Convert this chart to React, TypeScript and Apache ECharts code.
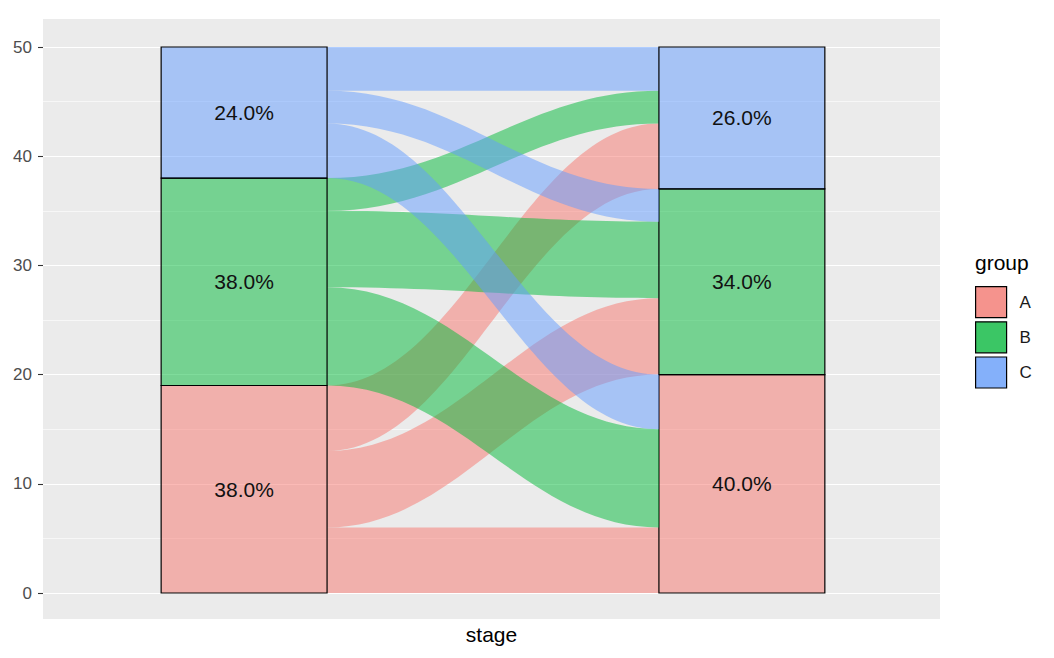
import React, { useEffect, useRef } from "react";
import * as echarts from "echarts";

// ---- data ----
const groups = ["A", "B", "C"];
const stage1Counts = [19, 19, 12]; // left stratum sizes (A, B, C)
const stage2Counts = [20, 17, 13]; // right stratum sizes (A, B, C)
// flows[from][to]
const flowsFromA = [6, 7, 6];
const flowsFromB = [9, 7, 3];
const flowsFromC = [5, 3, 4];
const yTicks = [0, 10, 20, 30, 40, 50];

const flows = [flowsFromA, flowsFromB, flowsFromC];
const baseColors = ["#F8766D", "#00BA38", "#619CFF"];
const legendColors = ["#F5938D", "#3BC665", "#84B0FA"];
const FONT = "'Liberation Sans', Arial, Helvetica, sans-serif";
const W = 1 / 3;

function rgba(hex: string, a: number) {
  const n = parseInt(hex.slice(1), 16);
  return `rgba(${(n >> 16) & 255},${(n >> 8) & 255},${n & 255},${a})`;
}

function cumBefore(arr: number[], i: number) {
  let s = 0;
  for (let k = 0; k < i; k++) s += arr[k];
  return s;
}

type Item =
  | { kind: "flow"; lb: number; lt: number; rb: number; rt: number }
  | { kind: "stratum"; x: number; b: number; t: number; label: string };

function buildItems(g: number): Item[] {
  const items: Item[] = [];
  const total1 = stage1Counts.reduce((a, b) => a + b, 0);
  const total2 = stage2Counts.reduce((a, b) => a + b, 0);
  for (let j = 0; j < groups.length; j++) {
    const v = flows[g][j];
    const lb = cumBefore(stage1Counts, g) + cumBefore(flows[g], j);
    let rOff = 0;
    for (let k = 0; k < g; k++) rOff += flows[k][j];
    const rb = cumBefore(stage2Counts, j) + rOff;
    items.push({ kind: "flow", lb, lt: lb + v, rb, rt: rb + v });
  }
  const b1 = cumBefore(stage1Counts, g);
  items.push({
    kind: "stratum",
    x: 1,
    b: b1,
    t: b1 + stage1Counts[g],
    label: ((stage1Counts[g] / total1) * 100).toFixed(1) + "%",
  });
  const b2 = cumBefore(stage2Counts, g);
  items.push({
    kind: "stratum",
    x: 2,
    b: b2,
    t: b2 + stage2Counts[g],
    label: ((stage2Counts[g] / total2) * 100).toFixed(1) + "%",
  });
  return items;
}

export default function App() {
  const ref = useRef<HTMLDivElement>(null);
  useEffect(() => {
    if (!ref.current) return;
    const chart = echarts.init(ref.current, null, { renderer: "svg" });

    const series = groups.map((name, g) => {
      const items = buildItems(g);
      return {
        type: "custom",
        name,
        silent: true,
        itemStyle: { color: legendColors[g] },
        data: items.map((_, k) => [k]),
        renderItem: (params: any, api: any) => {
          const it = items[params.dataIndex];
          const fill = rgba(baseColors[g], 0.5);
          if (it.kind === "flow") {
            const xL = 1 + W / 2;
            const xR = 2 - W / 2;
            const p0b = api.coord([xL, it.lb]);
            const p0t = api.coord([xL, it.lt]);
            const p1b = api.coord([xR, it.rb]);
            const p1t = api.coord([xR, it.rt]);
            const c = 0.4 * (p1b[0] - p0b[0]);
            const d =
              `M${p0t[0]},${p0t[1]} ` +
              `C${p0t[0] + c},${p0t[1]} ${p1t[0] - c},${p1t[1]} ${p1t[0]},${p1t[1]} ` +
              `L${p1b[0]},${p1b[1]} ` +
              `C${p1b[0] - c},${p1b[1]} ${p0b[0] + c},${p0b[1]} ${p0b[0]},${p0b[1]} Z`;
            return {
              type: "path",
              shape: { pathData: d },
              style: { fill, stroke: null },
              silent: true,
            };
          }
          const tl = api.coord([it.x - W / 2, it.t]);
          const br = api.coord([it.x + W / 2, it.b]);
          return {
            type: "group",
            children: [
              {
                type: "rect",
                shape: { x: tl[0], y: tl[1], width: br[0] - tl[0], height: br[1] - tl[1] },
                style: { fill, stroke: "#000000", lineWidth: 1.2 },
                silent: true,
              },
              {
                type: "text",
                x: (tl[0] + br[0]) / 2,
                y: (tl[1] + br[1]) / 2,
                style: {
                  text: it.label,
                  fill: "#111111",
                  fontSize: 21,
                  fontFamily: FONT,
                  align: "center",
                  verticalAlign: "middle",
                },
                silent: true,
              },
            ],
          };
        },
      };
    });

    chart.setOption({
      animation: false,
      backgroundColor: "#ffffff",
      graphic: [
        {
          type: "rect",
          z: -10,
          silent: true,
          shape: { x: 43, y: 19, width: 897, height: 600 },
          style: { fill: "#EBEBEB" },
        },
        {
          type: "text",
          left: 975,
          top: 252,
          silent: true,
          style: { text: "group", fontSize: 21, fontFamily: FONT, fill: "#000000" },
        },
      ],
      grid: { left: 43, right: 114, top: 47, bottom: 65, containLabel: false },
      xAxis: {
        type: "value",
        min: 0.596,
        max: 2.398,
        axisLine: { show: false },
        axisTick: { show: false },
        axisLabel: { show: false },
        splitLine: { show: false },
        name: "stage",
        nameLocation: "middle",
        nameGap: 31,
        nameTextStyle: { fontSize: 21, color: "#000000", fontFamily: FONT },
      },
      yAxis: {
        type: "value",
        min: yTicks[0],
        max: yTicks[yTicks.length - 1],
        interval: 10,
        axisLine: { show: false },
        axisTick: { show: true, length: 5, lineStyle: { color: "#333333", width: 1.1 } },
        axisLabel: { color: "#4D4D4D", fontSize: 17, fontFamily: FONT, margin: 11 },
        splitLine: { show: true, lineStyle: { color: "#FFFFFF", width: 1.2 } },
        minorTick: { show: false, splitNumber: 2 },
        minorSplitLine: { show: true, lineStyle: { color: "#FFFFFF", width: 0.6 } },
      },
      legend: {
        left: 975,
        top: 286,
        padding: 0,
        orient: "vertical",
        itemWidth: 31,
        itemHeight: 31,
        itemGap: 3,
        icon: "rect",
        selectedMode: false,
        itemStyle: { borderColor: "#000000", borderWidth: 1.2 },
        textStyle: { fontSize: 17, color: "#1A1A1A", fontFamily: FONT, padding: [0, 0, 0, 8] },
        data: groups.map((name, g) => ({
          name,
          itemStyle: { color: legendColors[g], borderColor: "#000000", borderWidth: 1.2 },
        })),
      },
      series,
    });
    return () => chart.dispose();
  }, []);
  return (
    <div
      ref={ref}
      style={{ position: "fixed", left: 0, top: 0, width: "1054px", height: "658px", background: "#fff" }}
    />
  );
}
